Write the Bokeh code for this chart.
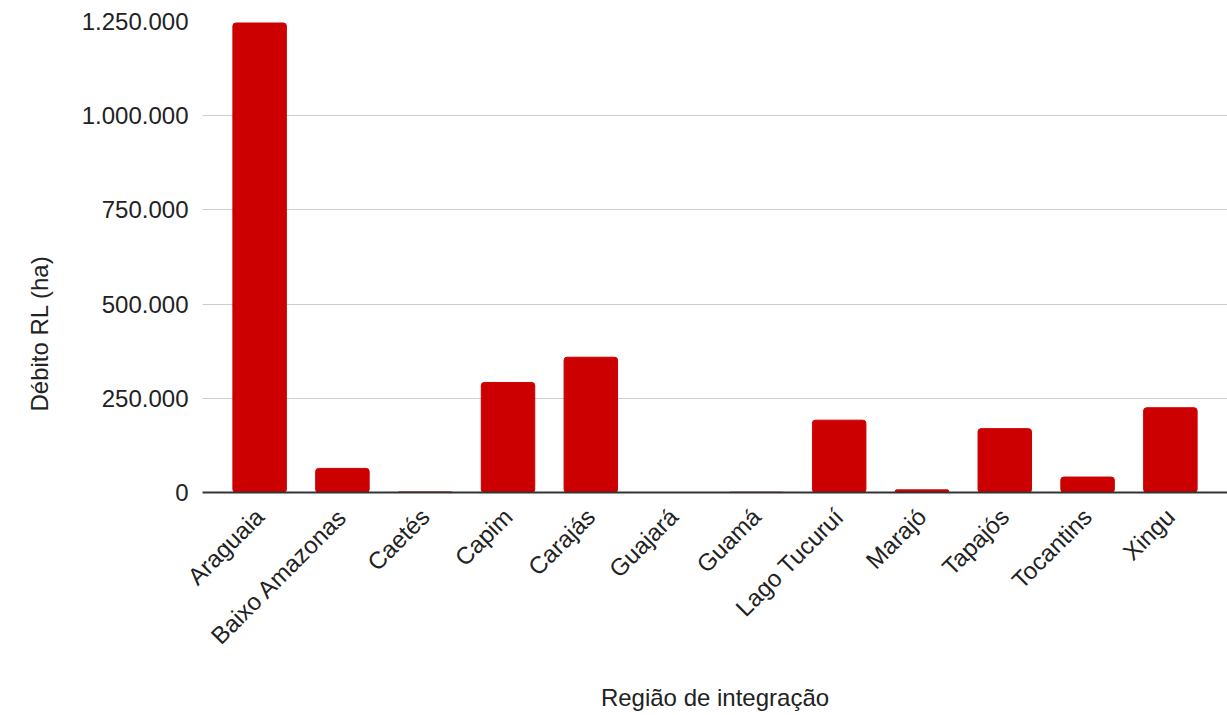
from math import pi

from bokeh.embed import file_html
from bokeh.models import FactorRange, FixedTicker, Range1d, Title
from bokeh.plotting import figure
from bokeh.resources import INLINE

# Debt of legal reserve (RL) per integration region, in hectares
regions = ["Araguaia", "Baixo Amazonas", "Caetés", "Capim", "Carajás", "Guajará",
           "Guamá", "Lago Tucuruí", "Marajó", "Tapajós", "Tocantins", "Xingu"]
debt_ha = [1246000, 64000, 1500, 292000, 359000, 0,
           800, 192000, 7000, 169500, 41000, 225000]

y_ticks = [0, 250000, 500000, 750000, 1000000, 1250000]
y_tick_labels = ["0", "250.000", "500.000", "750.000", "1.000.000", "1.250.000"]

FONT = "Liberation Sans"
SIZE = "24px"
TEXT = "#222222"

LEFT, TOP, BOTTOM = 202, 21, 223
W, H = 1227, 715

p = figure(
    width=W, height=H,
    x_range=FactorRange(factors=regions, range_padding=0.19, range_padding_units="absolute"),
    y_range=Range1d(0, 1250000),
    output_backend="svg", toolbar_location=None,
    min_border_left=LEFT, min_border_right=0, min_border_top=TOP, min_border_bottom=BOTTOM,
)
p.outline_line_color = None
p.background_fill_color = "white"
p.border_fill_color = "white"

p.vbar(x=regions, top=debt_ha, width=0.646, color="#cc0000", border_radius=3)

# y axis: light grid, no line, dotted thousands labels
p.yaxis.ticker = FixedTicker(ticks=y_ticks)
p.yaxis.major_label_overrides = dict(zip(y_ticks, y_tick_labels))
p.yaxis.axis_line_color = None
p.yaxis.major_tick_line_color = None
p.yaxis.minor_tick_line_color = None
p.yaxis.major_tick_out = 0
p.yaxis.major_label_standoff = 14
p.yaxis.major_label_text_font = FONT
p.yaxis.major_label_text_font_size = SIZE
p.yaxis.major_label_text_color = TEXT
p.ygrid.grid_line_color = "#cccccc"
p.ygrid.grid_line_width = 1

# y title sits in its own panel, shifted down from the frame's centre
y_title = Title(text="Débito RL (ha)", align="left", offset=81,
                vertical_align="top", standoff=47,
                text_font=FONT, text_font_size=SIZE, text_font_style="normal",
                text_color=TEXT)
p.add_layout(y_title, "left")

# x axis: dark baseline, rotated region names
p.xgrid.grid_line_color = None
p.xaxis.axis_line_color = "#333333"
p.xaxis.axis_line_width = 2
p.xaxis.major_tick_line_color = None
p.xaxis.minor_tick_line_color = None
p.xaxis.major_tick_out = 0
p.xaxis.major_label_orientation = pi / 4
p.xaxis.major_label_standoff = 20
p.xaxis.major_label_text_font = FONT
p.xaxis.major_label_text_font_size = SIZE
p.xaxis.major_label_text_color = TEXT
p.xaxis.axis_label = "Região de integração"
p.xaxis.axis_label_standoff = 22
p.xaxis.axis_label_text_font = FONT
p.xaxis.axis_label_text_font_size = SIZE
p.xaxis.axis_label_text_font_style = "normal"
p.xaxis.axis_label_text_color = TEXT

open("out.html", "w").write(file_html(p, INLINE))
